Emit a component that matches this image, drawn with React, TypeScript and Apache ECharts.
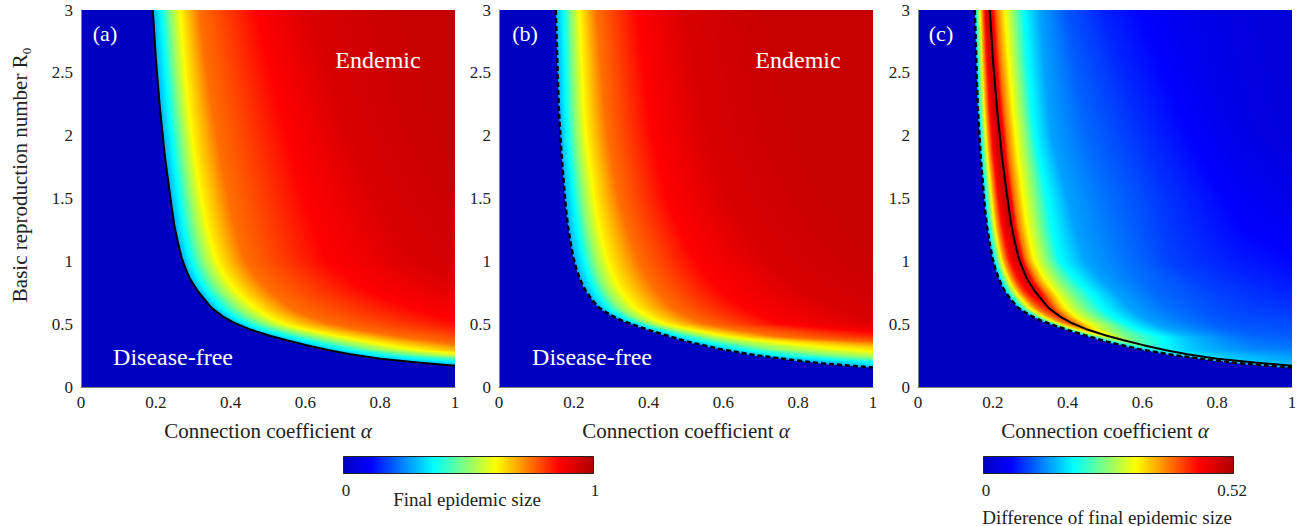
import React, { useEffect, useRef } from "react";
import * as echarts from "echarts";

// ---------------- axes ----------------
const ALPHA_TICK_STEP = 0.2;
const R0_TICK_STEP = 0.5;
const ALPHA_MAX = 1;
const R0_MAX = 3;

// ---------------- threshold curves ----------------
const SOLID_ALPHA = [0.192, 0.2, 0.211, 0.225, 0.243, 0.25, 0.26, 0.269, 0.28, 0.29, 0.3, 0.313, 0.349, 0.38, 0.41, 0.45, 0.505, 0.55, 0.6, 0.66, 0.72, 0.8, 0.9, 1.0];
const SOLID_R0 = [3.0, 2.62, 2.22, 1.82, 1.42, 1.28, 1.14, 1.03, 0.94, 0.87, 0.82, 0.76, 0.63, 0.56, 0.51, 0.46, 0.408, 0.372, 0.335, 0.295, 0.26, 0.225, 0.195, 0.17];
const DASHED_ALPHA = [0.152, 0.156, 0.16, 0.168, 0.179, 0.185, 0.192, 0.199, 0.206, 0.214, 0.223, 0.233, 0.25, 0.268, 0.3, 0.328, 0.37, 0.415, 0.505, 0.594, 0.683, 0.772, 0.861, 1.0];
const DASHED_R0 = [3.0, 2.6, 2.22, 1.82, 1.42, 1.27, 1.14, 1.03, 0.95, 0.88, 0.815, 0.76, 0.69, 0.63, 0.57, 0.53, 0.485, 0.44, 0.361, 0.3, 0.255, 0.22, 0.189, 0.155];

// ---------------- final epidemic size ----------------
// per R0 row: alpha distance to the right of the threshold curve at which each level is reached
const SIZE_JUMP = 0.28;
const SIZE_LEVELS = [0.36, 0.5, 0.62, 0.75, 0.86, 0.93, 0.96];

const A_ROW_R0 = [3, 2, 1.5, 1, 0.75, 0.6, 0.5, 0.4, 0.3, 0.25, 0.2, 0.17];
const A_LEVEL_OFFSET = [
  [0.023, 0.048, 0.076, 0.123, 0.278, 0.428, 0.658],
  [0.024, 0.052, 0.081, 0.144, 0.334, 0.504, 0.734],
  [0.023, 0.053, 0.086, 0.156, 0.361, 0.561, 0.811],
  [0.022, 0.057, 0.095, 0.167, 0.387, 0.627, 0.927],
  [0.024, 0.064, 0.109, 0.194, 0.464, 0.784, 1.084],
  [0.028, 0.073, 0.123, 0.218, 0.558, 0.938, 1.338],
  [0.03, 0.08, 0.135, 0.255, 0.632, 1.082, 1.582],
  [0.045, 0.115, 0.195, 0.345, 0.785, 1.285, 1.885],
  [0.055, 0.14, 0.25, 0.47, 0.95, 1.55, 2.15],
  [0.077, 0.207, 0.357, 0.657, 1.157, 1.757, 2.357],
  [0.137, 0.417, 0.717, 1.117, 1.717, 2.417, 3.117],
  [0.15, 0.5, 0.9, 1.4, 2.0, 2.8, 3.5],
];

const B_ROW_R0 = [3, 2, 1.5, 1, 0.75, 0.6, 0.5, 0.4, 0.3, 0.25, 0.2, 0.155];
const B_LEVEL_OFFSET = [
  [0.02, 0.042, 0.065, 0.108, 0.218, 0.348, 0.548],
  [0.019, 0.043, 0.071, 0.126, 0.246, 0.396, 0.616],
  [0.023, 0.049, 0.081, 0.143, 0.273, 0.443, 0.683],
  [0.026, 0.056, 0.093, 0.173, 0.328, 0.528, 0.798],
  [0.025, 0.057, 0.1, 0.19, 0.365, 0.605, 0.915],
  [0.021, 0.056, 0.101, 0.196, 0.396, 0.666, 1.016],
  [0.022, 0.052, 0.097, 0.2, 0.41, 0.7, 1.1],
  [0.035, 0.095, 0.17, 0.3, 0.69, 1.14, 1.64],
  [0.056, 0.156, 0.36, 0.75, 1.35, 2.0, 2.6],
  [0.064, 0.234, 0.504, 0.904, 1.504, 2.104, 2.704],
  [0.161, 0.371, 0.621, 1.071, 1.671, 2.371, 2.971],
  [0.15, 0.4, 0.7, 1.2, 1.8, 2.5, 3.2],
];

// ---------------- difference of final epidemic size ----------------
// rising part between dashed and solid curve (fractions of the gap), falling part right of the solid curve
const DIFF_MAX = 0.52;
const DIFF_JUMP = 0.14;
const C_ROW_R0 = [3, 2, 1.5, 1, 0.75, 0.5, 0.4, 0.3, 0.25, 0.2, 0.16];
const C_RISE_FRAC = [0.1, 0.25, 0.4, 0.6, 0.8, 1.0];
const C_RISE_VALUE = [
  [0.2, 0.27, 0.34, 0.42, 0.48, 0.5],
  [0.2, 0.28, 0.36, 0.44, 0.48, 0.5],
  [0.2, 0.28, 0.36, 0.44, 0.48, 0.5],
  [0.2, 0.28, 0.36, 0.43, 0.47, 0.49],
  [0.2, 0.27, 0.34, 0.41, 0.45, 0.47],
  [0.19, 0.25, 0.31, 0.36, 0.39, 0.4],
  [0.17, 0.21, 0.24, 0.27, 0.29, 0.3],
  [0.155, 0.165, 0.175, 0.19, 0.2, 0.21],
  [0.15, 0.16, 0.17, 0.178, 0.185, 0.19],
  [0.15, 0.155, 0.16, 0.168, 0.175, 0.18],
  [0.15, 0.155, 0.16, 0.165, 0.17, 0.175],
];
const C_FALL_OFFSET = [
  [0.008, 0.018, 0.04, 0.063, 0.09, 0.134, 0.208, 0.298, 0.508, 0.808],
  [0.0095, 0.0195, 0.0415, 0.0675, 0.0935, 0.1385, 0.2335, 0.3835, 0.6335, 0.7835],
  [0.009, 0.018, 0.041, 0.071, 0.106, 0.161, 0.261, 0.411, 0.661, 0.761],
  [0.008, 0.018, 0.039, 0.072, 0.107, 0.178, 0.267, 0.401, 0.579, 0.727],
  [0.014, 0.029, 0.056, 0.094, 0.144, 0.214, 0.324, 0.484, 0.604, 0.684],
  [0.007, 0.022, 0.042, 0.087, 0.14, 0.222, 0.309, 0.382, 0.442, 0.582],
  [0.015, 0.03, 0.045, 0.085, 0.135, 0.205, 0.285, 0.355, 0.415, 0.485],
  [0.0025, 0.0125, 0.0275, 0.0475, 0.0775, 0.1175, 0.1675, 0.2275, 0.2875, 0.3475],
  [0.007, 0.017, 0.032, 0.052, 0.077, 0.107, 0.147, 0.187, 0.227, 0.257],
  [0.005, 0.012, 0.022, 0.032, 0.047, 0.062, 0.077, 0.092, 0.107, 0.117],
  [0.01, 0.02, 0.03, 0.04, 0.05, 0.06, 0.07, 0.08, 0.09, 0.1],
];
const C_FALL_VALUE = [
  [0.45, 0.39, 0.32, 0.26, 0.19, 0.14, 0.1, 0.075, 0.04, 0.02],
  [0.45, 0.39, 0.32, 0.26, 0.19, 0.14, 0.11, 0.08, 0.035, 0.025],
  [0.45, 0.39, 0.32, 0.26, 0.19, 0.14, 0.115, 0.085, 0.045, 0.035],
  [0.45, 0.39, 0.32, 0.26, 0.19, 0.14, 0.12, 0.09, 0.07, 0.06],
  [0.44, 0.38, 0.31, 0.25, 0.19, 0.14, 0.11, 0.09, 0.08, 0.075],
  [0.39, 0.36, 0.31, 0.26, 0.19, 0.14, 0.12, 0.105, 0.1, 0.095],
  [0.29, 0.27, 0.25, 0.22, 0.19, 0.155, 0.13, 0.115, 0.108, 0.105],
  [0.2, 0.19, 0.18, 0.17, 0.16, 0.15, 0.14, 0.13, 0.125, 0.122],
  [0.18, 0.175, 0.17, 0.165, 0.16, 0.155, 0.15, 0.145, 0.14, 0.138],
  [0.165, 0.163, 0.161, 0.159, 0.157, 0.155, 0.153, 0.151, 0.15, 0.15],
  [0.155, 0.155, 0.155, 0.155, 0.155, 0.155, 0.155, 0.155, 0.155, 0.155],
];

// ---------------- colour scale ----------------
const CMAP_POS = [0, 0.11, 0.36, 0.61, 0.86, 1];
const CMAP_COL = ["#0000C0", "#0000FF", "#00FFFF", "#FFFF00", "#FF0000", "#B00000"];

// ---------------- layout ----------------
const FONT = "Liberation Serif";
const PANEL_LEFT = [81, 499, 918];
const PANEL_TOP = 10;
const PANEL_W = 374;
const PANEL_H = 377;
const STRIP = 0.01;

// ---------------- helpers ----------------
function hexRgb(h: string) {
  return [parseInt(h.slice(1, 3), 16), parseInt(h.slice(3, 5), 16), parseInt(h.slice(5, 7), 16)];
}
const CMAP_RGB = CMAP_COL.map(hexRgb);
function cmap(t: number) {
  const x = Math.max(0, Math.min(1, t));
  for (let i = 0; i < CMAP_POS.length - 1; i++) {
    if (x <= CMAP_POS[i + 1]) {
      const w = (x - CMAP_POS[i]) / (CMAP_POS[i + 1] - CMAP_POS[i]);
      const a = CMAP_RGB[i], b = CMAP_RGB[i + 1];
      return `rgb(${Math.round(a[0] + w * (b[0] - a[0]))},${Math.round(a[1] + w * (b[1] - a[1]))},${Math.round(a[2] + w * (b[2] - a[2]))})`;
    }
  }
  return CMAP_COL[CMAP_COL.length - 1];
}

function rowLerp(rowR0: number[], table: number[][], r: number): number[] {
  const n = rowR0.length;
  if (r >= rowR0[0]) return table[0].slice();
  if (r <= rowR0[n - 1]) return table[n - 1].slice();
  for (let i = 0; i < n - 1; i++) {
    const hi = rowR0[i], lo = rowR0[i + 1];
    if (r <= hi && r >= lo) {
      const w = (r - lo) / (hi - lo);
      return table[i].map((a, k) => table[i + 1][k] + w * (a - table[i + 1][k]));
    }
  }
  return table[n - 1].slice();
}

function curveAlphaAt(al: number[], rs: number[], r: number): number {
  if (r >= rs[0]) return al[0];
  if (r < rs[rs.length - 1]) return Infinity;
  for (let i = 0; i < rs.length - 1; i++) {
    if (r <= rs[i] && r >= rs[i + 1]) {
      const w = (r - rs[i + 1]) / (rs[i] - rs[i + 1]);
      return al[i + 1] + w * (al[i] - al[i + 1]);
    }
  }
  return Infinity;
}

function knotsFor(panel: number, r: number): [number, number][] | null {
  const raw: [number, number][] = [];
  if (panel === 0 || panel === 1) {
    const boundary = panel === 0 ? curveAlphaAt(SOLID_ALPHA, SOLID_R0, r) : curveAlphaAt(DASHED_ALPHA, DASHED_R0, r);
    if (!(boundary < ALPHA_MAX)) return null;
    const offs = panel === 0 ? rowLerp(A_ROW_R0, A_LEVEL_OFFSET, r) : rowLerp(B_ROW_R0, B_LEVEL_OFFSET, r);
    raw.push([boundary, SIZE_JUMP]);
    offs.forEach((o, k) => raw.push([boundary + o, SIZE_LEVELS[k]]));
  } else {
    const d = curveAlphaAt(DASHED_ALPHA, DASHED_R0, r);
    if (!(d < ALPHA_MAX)) return null;
    let s = Math.min(curveAlphaAt(SOLID_ALPHA, SOLID_R0, r), 1.02);
    if (s < d) s = d;
    const rise = rowLerp(C_ROW_R0, C_RISE_VALUE, r);
    const fo = rowLerp(C_ROW_R0, C_FALL_OFFSET, r);
    const fv = rowLerp(C_ROW_R0, C_FALL_VALUE, r);
    raw.push([d, DIFF_JUMP / DIFF_MAX]);
    C_RISE_FRAC.forEach((f, k) => raw.push([d + f * (s - d), rise[k] / DIFF_MAX]));
    fo.forEach((o, k) => raw.push([s + o, fv[k] / DIFF_MAX]));
  }
  const knots: [number, number][] = [];
  let prev = -Infinity;
  for (const [a0, v] of raw) {
    const a = Math.max(a0, prev + 1e-4);
    knots.push([a, v]);
    prev = a;
  }
  return knots;
}

function makeFieldRenderer(panel: number) {
  return (params: any, api: any) => {
    const r = api.value(1);
    const knots = knotsFor(panel, r);
    if (!knots) return null;
    const px = (a: number) => api.coord([a, r])[0];
    const pts: [number, string][] = [];
    const inner = CMAP_POS.slice(1, -1);
    for (let k = 0; k < knots.length; k++) {
      const [a, t] = knots[k];
      pts.push([px(a), cmap(t)]);
      if (k < knots.length - 1) {
        const [a2, t2] = knots[k + 1];
        const cross: number[] = [];
        for (const b of inner) {
          if ((b > t && b < t2) || (b < t && b > t2)) cross.push(a + ((b - t) / (t2 - t)) * (a2 - a));
        }
        cross.sort((p, q) => p - q);
        for (const c of cross) pts.push([px(c), cmap(t + ((c - a) / (a2 - a)) * (t2 - t))]);
      }
    }
    const x0 = pts[0][0];
    const xr = px(ALPHA_MAX);
    if (x0 >= xr) return null;
    const xEnd = Math.max(pts[pts.length - 1][0], x0 + 1);
    const stops = pts.map(([x, c]) => ({ offset: Math.min(1, Math.max(0, (x - x0) / (xEnd - x0))), color: c }));
    const yTop = api.coord([0, r + STRIP / 2])[1];
    const yBot = api.coord([0, r - STRIP / 2])[1];
    return {
      type: "rect",
      shape: { x: x0, y: yTop - 0.45, width: xr - x0, height: yBot - yTop + 0.9 },
      style: { fill: new echarts.graphic.LinearGradient(x0, 0, xEnd, 0, stops, true) },
      silent: true,
    };
  };
}

function text(x: number, y: number, s: string, size: number, fill: string) {
  return {
    type: "text",
    x,
    y,
    silent: true,
    z: 10,
    style: {
      text: s,
      fill,
      fontSize: size,
      fontFamily: FONT,
      align: "center",
      verticalAlign: "middle",
    },
  };
}

function buildOption() {
  const strips: number[][] = [];
  for (let k = 0; k < Math.round(R0_MAX / STRIP); k++) strips.push([0.5, STRIP / 2 + k * STRIP]);

  const grid = PANEL_LEFT.map((left) => ({
    left,
    top: PANEL_TOP,
    width: PANEL_W,
    height: PANEL_H,
    show: true,
    backgroundColor: cmap(0),
    borderWidth: 0,
  }));

  const tickLabel = { fontFamily: FONT, fontSize: 17, color: "#222" };
  const xAxis = PANEL_LEFT.map((_, i) => ({
    type: "value",
    gridIndex: i,
    min: 0,
    max: ALPHA_MAX,
    interval: ALPHA_TICK_STEP,
    name: "Connection coefficient {i|α}",
    nameLocation: "middle",
    nameGap: 33,
    nameTextStyle: {
      fontFamily: FONT,
      fontSize: 21,
      color: "#222",
      rich: { i: { fontFamily: FONT, fontSize: 21, fontStyle: "italic", color: "#222" } },
    },
    axisLine: { show: true, lineStyle: { color: "#808080", width: 1 } },
    axisTick: { show: false },
    splitLine: { show: false },
    axisLabel: { ...tickLabel, margin: 7, formatter: (v: number) => String(Math.round(v * 10) / 10) },
  }));
  const yAxis = PANEL_LEFT.map((_, i) => ({
    type: "value",
    gridIndex: i,
    min: 0,
    max: R0_MAX,
    interval: R0_TICK_STEP,
    axisLine: { show: true, lineStyle: { color: "#808080", width: 1 } },
    axisTick: { show: false },
    splitLine: { show: false },
    axisLabel: { ...tickLabel, margin: 8, formatter: (v: number) => String(Math.round(v * 10) / 10) },
  }));

  const lineSeries = (i: number, al: number[], rs: number[], dashed: boolean) => ({
    type: "line",
    xAxisIndex: i,
    yAxisIndex: i,
    data: al.map((a, k) => [a, rs[k]]),
    symbol: "none",
    showSymbol: false,
    silent: true,
    z: 5,
    lineStyle: dashed ? { color: "#000", width: 2.4, type: [5, 3] } : { color: "#000", width: 2 },
  });

  const series: any[] = [];
  for (let i = 0; i < 3; i++) {
    series.push({
      type: "custom",
      xAxisIndex: i,
      yAxisIndex: i,
      data: strips,
      renderItem: makeFieldRenderer(i),
      silent: true,
      clip: true,
      z: 1,
    });
  }
  series.push(lineSeries(0, SOLID_ALPHA, SOLID_R0, false));
  series.push(lineSeries(1, DASHED_ALPHA, DASHED_R0, true));
  series.push(lineSeries(2, SOLID_ALPHA, SOLID_R0, false));
  series.push(lineSeries(2, DASHED_ALPHA, DASHED_R0, true));

  const gradStops = CMAP_POS.map((p, k) => ({ offset: p, color: CMAP_COL[k] }));
  const graphic: any[] = [
    {
      type: "text",
      x: 20,
      y: 175,
      rotation: Math.PI / 2,
      silent: true,
      style: {
        text: "{m|Basic reproduction number R}{s|0}",
        align: "center",
        verticalAlign: "middle",
        fill: "#222",
        fontFamily: FONT,
        fontSize: 21,
        rich: {
          m: { fontFamily: FONT, fontSize: 21, lineHeight: 26, fill: "#222" },
          s: { fontFamily: FONT, fontSize: 13, lineHeight: 15, verticalAlign: "bottom", fill: "#222" },
        },
      },
    },
    text(105, 33, "(a)", 22, "#fff"),
    text(378, 60, "Endemic", 24, "#fff"),
    text(173, 357, "Disease-free", 24, "#fff"),
    text(525, 33, "(b)", 22, "#fff"),
    text(798, 60, "Endemic", 24, "#fff"),
    text(592, 357, "Disease-free", 24, "#fff"),
    text(941, 33, "(c)", 22, "#fff"),
    {
      type: "rect",
      silent: true,
      shape: { x: 343.5, y: 456.5, width: 250, height: 17 },
      style: { fill: new echarts.graphic.LinearGradient(0, 0, 1, 0, gradStops), stroke: "#222", lineWidth: 1 },
    },
    text(346, 490, "0", 17, "#222"),
    text(595, 490, "1", 17, "#222"),
    text(467, 499, "Final epidemic size", 19, "#222"),
    {
      type: "rect",
      silent: true,
      shape: { x: 983.5, y: 456.5, width: 250, height: 17 },
      style: { fill: new echarts.graphic.LinearGradient(0, 0, 1, 0, gradStops), stroke: "#222", lineWidth: 1 },
    },
    text(986, 490, "0", 17, "#222"),
    text(1232, 490, "0.52", 17, "#222"),
    text(1107, 517, "Difference of final epidemic size", 19, "#222"),
  ];

  return {
    animation: false,
    backgroundColor: "#fff",
    grid,
    xAxis,
    yAxis,
    series,
    graphic,
  };
}

export default function App() {
  const ref = useRef<HTMLDivElement>(null);
  useEffect(() => {
    if (!ref.current) return;
    const chart = echarts.init(ref.current, undefined, { renderer: "svg" });
    chart.setOption(buildOption() as any);
    return () => chart.dispose();
  }, []);
  return (
    <div
      ref={ref}
      style={{ position: "fixed", left: 0, top: 0, width: 1304, height: 526, background: "#fff" }}
    />
  );
}
